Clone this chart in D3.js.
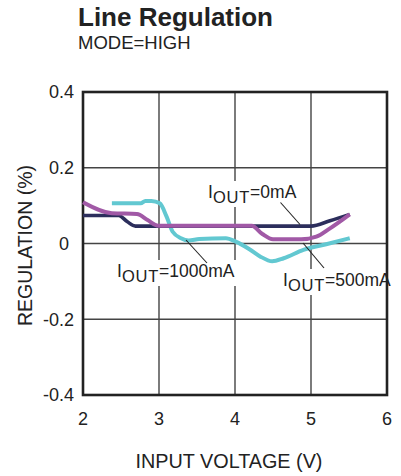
<!DOCTYPE html>
<html><head><meta charset="utf-8">
<script src="https://cdn.jsdelivr.net/npm/d3@7"></script>
<style>body{margin:0;background:#fff}svg{display:block}text{font-family:"Liberation Sans",Arial,sans-serif;fill:#222}</style>
</head><body><svg id="c" width="401" height="476"></svg>
<script>
const xTicks = [2, 3, 4, 5, 6];
const yTicks = [0.4, 0.2, 0, -0.2, -0.4];
const yTickLabels = ["0.4", "0.2", "0", "-0.2", "-0.4"];

const iout0X = [2, 2.47, 2.58, 2.69, 5.0, 5.25, 5.51];
const iout0Y = [0.074, 0.074, 0.058, 0.046, 0.046, 0.06, 0.077];

const iout500X = [2, 2.38, 2.71, 2.85, 2.99, 4.22, 4.36, 4.5, 4.87, 5.07, 5.25, 5.51];
const iout500Y = [0.109, 0.08, 0.078, 0.062, 0.047, 0.047, 0.025, 0.011, 0.011, 0.018, 0.04, 0.077];

const iout1000X = [2.38, 2.76, 2.82, 2.9, 3.01, 3.1, 3.18, 3.29, 3.39, 3.53, 3.88, 4.01, 4.19, 4.33, 4.49, 4.64, 4.9, 5.2, 5.51];
const iout1000Y = [0.106, 0.106, 0.112, 0.112, 0.106, 0.071, 0.031, 0.014, 0.008, 0.012, 0.014, 0.005, -0.015, -0.034, -0.047, -0.039, -0.017, -0.002, 0.014];

const seriesNames = ["0mA", "500mA", "1000mA"];
const seriesColors = ["#2c2e5c", "#a159a6", "#62c8d1"];

const svg = d3.select("#c");
const L = 83, R = 387, T = 92, B = 395;
const x = d3.scaleLinear().domain([2, 6]).range([L, R]);
const y = d3.scaleLinear().domain([-0.4, 0.4]).range([B, T]);

// titles
svg.append("text").attr("x", 78).attr("y", 26).style("font-size", "26px").style("font-weight", "bold").text("Line Regulation");
svg.append("text").attr("x", 78).attr("y", 49).style("font-size", "18.5px").text("MODE=HIGH");

// grid
const g = svg.append("g");
g.selectAll(".vg").data(xTicks.slice(1, -1)).join("line")
  .attr("x1", d => x(d)).attr("x2", d => x(d)).attr("y1", T).attr("y2", B)
  .attr("stroke", "#444").attr("stroke-width", 1.4);
g.selectAll(".hg").data(yTicks.slice(1, -1)).join("line")
  .attr("x1", L).attr("x2", R).attr("y1", d => y(d)).attr("y2", d => y(d))
  .attr("stroke", "#444").attr("stroke-width", 1.4);

// axes labels
svg.selectAll(".yt").data(yTicks).join("text")
  .attr("x", (d, i) => L - 9 - (d === 0 ? 5 : 0)).attr("y", d => y(d)).attr("dy", "0.35em")
  .attr("text-anchor", "end").style("font-size", "18px").text((d, i) => yTickLabels[i]);
svg.selectAll(".xt").data(xTicks).join("text")
  .attr("x", d => x(d)).attr("y", 425).attr("text-anchor", "middle").style("font-size", "18px").text(d => d);
svg.append("text").attr("x", 229).attr("y", 468).attr("text-anchor", "middle").style("font-size", "19.8px").text("INPUT VOLTAGE (V)");
svg.append("text").attr("transform", `translate(32,${(T + B) / 2 + 2}) rotate(-90)`).attr("text-anchor", "middle")
  .style("font-size", "19.5px").text("REGULATION (%)");

// annotation labels with knockout
const labels = [
  {name: "0mA", lx: 208, ly: 198},
  {name: "1000mA", lx: 117, ly: 277},
  {name: "500mA", lx: 283, ly: 286}
];
const labelG = svg.append("g");
labels.forEach(l => {
  const t = labelG.append("text").attr("x", l.lx).attr("y", l.ly).style("font-size", "17.5px");
  t.append("tspan").text("I");
  t.append("tspan").attr("dy", 5).style("font-size", "16.5px").attr("letter-spacing", "0.8").text("OUT");
  t.append("tspan").attr("dy", -5).text("=" + l.name);
  const bb = t.node().getBBox();
  labelG.insert("rect", "text").attr("x", bb.x - 2).attr("y", bb.y - 1).attr("width", bb.width + 4).attr("height", bb.height + 2).attr("fill", "#fff");
});

// frame
svg.append("rect").attr("x", L).attr("y", T).attr("width", R - L).attr("height", B - T)
  .attr("fill", "none").attr("stroke", "#222").attr("stroke-width", 2.6);

// series
const line = d3.line().x(d => x(d[0])).y(d => y(d[1])).curve(d3.curveMonotoneX);
const series = [
  d3.zip(iout0X, iout0Y),
  d3.zip(iout500X, iout500Y),
  d3.zip(iout1000X, iout1000Y)
];
[2, 0, 1].forEach(i => {
  svg.append("path").datum(series[i]).attr("d", line).attr("fill", "none")
    .attr("stroke", seriesColors[i]).attr("stroke-width", i === 0 ? 3.6 : 4).attr("stroke-linejoin", "round");
});

// leader lines
const leaders = [[[280.5, 202.5], [300, 224.5]], [[186, 240], [207, 263]], [[303, 243], [324, 268]]];
svg.selectAll(".ld").data(leaders).join("line")
  .attr("x1", d => d[0][0]).attr("y1", d => d[0][1]).attr("x2", d => d[1][0]).attr("y2", d => d[1][1])
  .attr("stroke", "#222").attr("stroke-width", 1.1);
</script></body></html>
